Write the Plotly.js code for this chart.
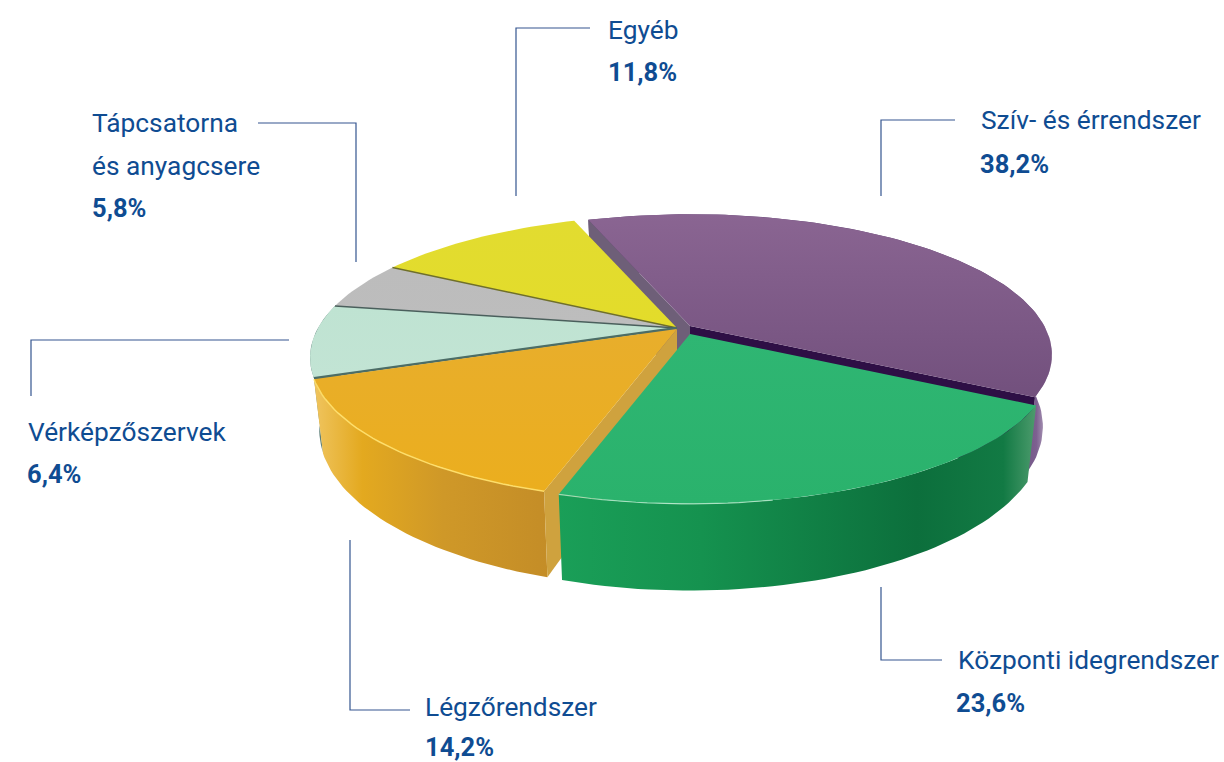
<!DOCTYPE html>
<html><head><meta charset="utf-8">
<script src="https://cdn.plot.ly/plotly-3.0.1.min.js"></script>
<style>html,body{margin:0;padding:0;background:#fff}#c{width:1224px;height:762px}</style>
</head><body><div id="c"></div>
<script>
// --- chart data ---
const categories = ["Szív- és érrendszer","Központi idegrendszer","Légzőrendszer","Vérképzőszervek","Tápcsatorna és anyagcsere","Egyéb"];
const values = [38.2,23.6,14.2,6.4,5.8,11.8];
// --- styles ---
const topColors = [["#72507d","#8a6592"],["#2ab26c","#2fb673"],["#ebae1e","#e8ae2c"],["#c2e4d4","#bfe3d2"],["#bdbdbd","#bcbcbc"],["#e3dc2a","#e2dc30"]];
const offsets = [[13,-2],[13,6],[0,1],[0,0],[0,0],[0,0]];
const radiusScale = [0.987,0.99,1,1,1,1];
const labelColor = "#0f4c92", leaderColor = "#34558f";
const FONT = "Roboto, sans-serif", FS = 26.3, FSB = 25.5;
// --- projection (tilted disc seen from the front, x/y axes are page pixels) ---
const Cx=677, Cy=328, A=359, B=136.4, K=0.207, D=69, startAngle=-20;
// small perspective correction of the drawn angle, degrees past the start -> degrees added
const warpKnots = [[0,0],[137.52,1],[222.48,-5.2],[273.6,-3.6],[296.64,3],[317.52,1.7],[360,0]];
function warp(t){for(let j=1;j<warpKnots.length;j++){const a=warpKnots[j-1],b=warpKnots[j];
  if(t<=b[0]+1e-6)return t+a[1]+(b[1]-a[1])*(t-a[0])/(b[0]-a[0]);}return t;}
function P(i,deg,r,low){
  const t=deg*Math.PI/180,q=r*radiusScale[i],u=Math.sin(t)*q,v=Math.cos(t)*q,s=1/(1+K*v),o=offsets[i];
  return [Cx+o[0]+A*u*s*(low?0.975:1), Cy+o[1]-B*v*s+(low?D*s:0)];
}
function arc(i,a,b,low){const out=[],n=Math.max(4,Math.ceil(Math.abs(b-a)/1.5));
  for(let j=0;j<=n;j++)out.push(P(i,a+(b-a)*j/n,1,low));return out;}
let cum=0; const bounds=values.map(v=>{const a=cum;cum+=v*3.6;return [warp(a)+startAngle,warp(cum)+startAngle];});
const traces=[];
function poly(pts,fill){const tr={x:pts.map(p=>p[0]).concat(pts[0][0]),y:pts.map(p=>p[1]).concat(pts[0][1]),mode:"lines",line:{width:0},fill:"toself",hoverinfo:"skip",showlegend:false};
  if(typeof fill==="string")tr.fillcolor=fill;else tr.fillgradient=fill;traces.push(tr);}
function stroke(pts,color,w){traces.push({x:pts.map(p=>p[0]),y:pts.map(p=>p[1]),mode:"lines",line:{color:color,width:w},hoverinfo:"skip",showlegend:false});}
function hg(stops,x0,x1){return {type:"horizontal",start:x0,stop:x1,colorscale:stops};}
function vg(c){return {type:"vertical",colorscale:[[0,c[0]],[1,c[1]]]};}
function topFace(i){poly([P(i,0,0,false)].concat(arc(i,bounds[i][0],bounds[i][1],false)),vg(topColors[i]));}
function outer(i,g){poly(arc(i,bounds[i][0],bounds[i][1],false).concat(arc(i,bounds[i][0],bounds[i][1],true).reverse()),g);}
function radial(i,deg,c){poly([P(i,0,0,false),P(i,deg,1,false),P(i,deg,1,true),P(i,0,0,true)],c);}

// purple
outer(0,hg([[0,"#5e3f70"],[0.7,"#7d6090"],[0.9,"#b5a5c0"],[1,"#e8e4ea"]],1000,1052));
radial(0,bounds[0][0],"#6e5f78");
radial(0,bounds[0][1],"#2e0f45");
topFace(0);
// mint wall
outer(3,"#5d7f78");
// yellow, gray, mint tops with dark seam lines
topFace(5); topFace(4); topFace(3);
stroke([P(5,0,0,false),P(5,bounds[5][0],1,false)],"#6f6f2a",1.5);
stroke([P(4,0,0,false),P(4,bounds[4][0],1,false)],"#4a5f5c",1.5);
// orange
outer(2,hg([[0,"#efc35c"],[0.2,"#e3a91f"],[0.55,"#cf9828"],[1,"#c48d27"]],316,548));
radial(2,bounds[2][0],"#cfa23e");
stroke([P(3,0,0,false),P(3,bounds[3][0],1,false)],"#4c6d66",2.5);
topFace(2);
stroke(arc(2,bounds[2][0],bounds[2][1],false),"rgba(255,225,110,0.9)",1.5);
// green
outer(1,hg([[0,"#1a9f58"],[0.3,"#15924f"],[0.75,"#0c6f3c"],[0.93,"#127a44"],[1,"#4e9c6e"]],557,1037));
topFace(1);
stroke(arc(1,bounds[1][1]-28,bounds[1][1],false),"rgba(200,240,215,0.7)",1.2);

// --- labels ---
const pct = v => v.toFixed(1).replace(".",",")+"%";
const labelLines = [
 {x:981,y:120,t:categories[0]},{x:980,y:164,t:pct(values[0]),b:1},
 {x:958,y:660,t:categories[1]},{x:956,y:703,t:pct(values[1]),b:1},
 {x:425,y:707,t:categories[2]},{x:425,y:747,t:pct(values[2]),b:1},
 {x:28,y:432,t:categories[3]},{x:27,y:474,t:pct(values[3]),b:1},
 {x:92,y:123,t:"Tápcsatorna"},{x:92,y:166,t:"és anyagcsere"},{x:92,y:208,t:pct(values[4]),b:1},
 {x:608,y:30,t:categories[5]},{x:608,y:72,t:pct(values[5]),b:1}];
const annotations = labelLines.map(l=>({xref:"x",yref:"y",x:l.x,y:l.y,text:l.b?"<b>"+l.t+"</b>":l.t,showarrow:false,xanchor:"left",yanchor:"middle",xshift:-2,
  font:{family:FONT,size:l.b?FSB:FS,color:labelColor}}));
const leaders = [[[881,196],[881,120],[955,120]],[[881,587],[881,660],[942,660]],[[350,540],[350,710],[410,710]],[[31,396],[31,340],[289,340]],[[258,123],[356,123],[356,262]],[[516,196],[516,28],[590,28]]];
leaders.forEach(l=>stroke(l,leaderColor,1.2));

Plotly.newPlot("c",traces,{width:1224,height:762,margin:{l:0,r:0,t:0,b:0},paper_bgcolor:"#fff",plot_bgcolor:"#fff",showlegend:false,
 xaxis:{range:[0,1224],visible:false,fixedrange:true},yaxis:{range:[762,0],visible:false,fixedrange:true},annotations:annotations},{displayModeBar:false,staticPlot:true});
</script></body></html>
